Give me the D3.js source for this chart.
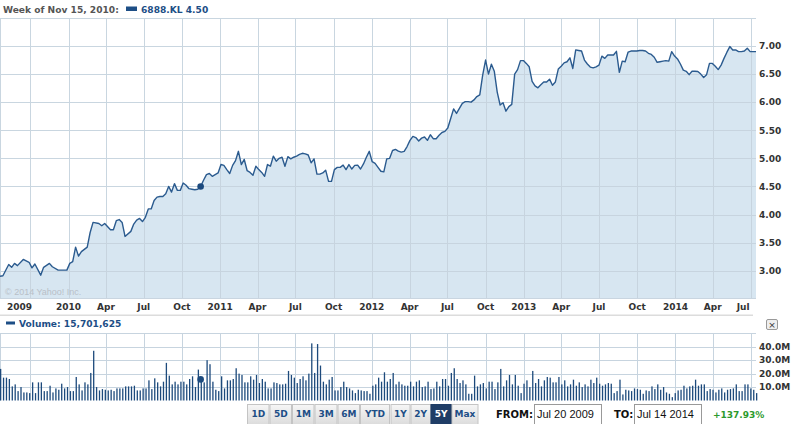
<!DOCTYPE html>
<html><head><meta charset="utf-8">
<script src="https://cdn.jsdelivr.net/npm/d3@7/dist/d3.min.js"></script>
<style>
html,body{margin:0;padding:0;background:#fff;}
svg{display:block;font-family:"DejaVu Sans",Verdana,sans-serif;}
</style></head><body>
<svg id="c" width="793" height="424"></svg>
<script>
// ---------- DATA ----------
const symbol = "6888.KL";
const hoverLabel = "Week of Nov 15, 2010:";
const hoverDate = "2010-11-15";
const hoverPrice = 4.50;
const hoverVolume = 15701625;
const rangeStart = "2009-07-20";
const rangeEnd = "2014-07-14";
const changeText = "+137.93%";

const priceDates = [
"2009-07-20","2009-07-27","2009-08-10","2009-08-17","2009-08-24","2009-08-31","2009-09-14","2009-09-28","2009-10-05","2009-10-12",
"2009-10-26","2009-11-02","2009-11-16","2009-11-23","2009-12-07","2009-12-28","2010-01-04","2010-01-11","2010-01-18","2010-01-25",
"2010-02-01","2010-02-15","2010-02-22","2010-03-01","2010-03-15","2010-03-22","2010-03-29","2010-04-12","2010-04-19","2010-04-26",
"2010-05-03","2010-05-10","2010-05-17","2010-05-31","2010-06-07","2010-06-14","2010-06-21","2010-06-28","2010-07-05","2010-07-12",
"2010-07-19","2010-07-26","2010-08-02","2010-08-09","2010-08-16","2010-08-23","2010-08-30","2010-09-06","2010-09-13","2010-09-20",
"2010-09-27","2010-10-04","2010-10-11","2010-10-18","2010-10-25","2010-11-01","2010-11-08","2010-11-15","2010-11-22","2010-11-29",
"2010-12-06","2010-12-13","2010-12-20","2010-12-27","2011-01-03","2011-01-10","2011-01-17","2011-01-24","2011-01-31","2011-02-07",
"2011-02-14","2011-02-21","2011-02-28","2011-03-07","2011-03-14","2011-03-21","2011-03-28","2011-04-04","2011-04-11","2011-04-18",
"2011-04-25","2011-05-02","2011-05-09","2011-05-16","2011-05-23","2011-05-30","2011-06-06","2011-06-13","2011-06-20","2011-06-27",
"2011-07-04","2011-07-11","2011-07-18","2011-07-25","2011-08-01","2011-08-08","2011-08-15","2011-08-22","2011-08-29","2011-09-05",
"2011-09-12","2011-09-19","2011-09-26","2011-10-03","2011-10-10","2011-10-17","2011-10-24","2011-10-31","2011-11-07","2011-11-14",
"2011-11-21","2011-11-28","2011-12-05","2011-12-12","2011-12-19","2011-12-26","2012-01-02","2012-01-09","2012-01-16","2012-01-23",
"2012-01-30","2012-02-06","2012-02-13","2012-02-20","2012-02-27","2012-03-05","2012-03-12","2012-03-19","2012-03-26","2012-04-02",
"2012-04-09","2012-04-16","2012-04-23","2012-04-30","2012-05-07","2012-05-14","2012-05-21","2012-05-28","2012-06-04","2012-06-11",
"2012-06-18","2012-06-25","2012-07-02","2012-07-09","2012-07-16","2012-07-23","2012-07-30","2012-08-06","2012-08-13","2012-08-20",
"2012-08-27","2012-09-03","2012-09-10","2012-09-17","2012-09-24","2012-10-01","2012-10-08","2012-10-15","2012-10-22","2012-10-29",
"2012-11-05","2012-11-12","2012-11-19","2012-11-26","2012-12-03","2012-12-10","2012-12-17","2012-12-24","2012-12-31","2013-01-07",
"2013-01-14","2013-01-21","2013-01-28","2013-02-04","2013-02-11","2013-02-18","2013-02-25","2013-03-04","2013-03-11","2013-03-18",
"2013-03-25","2013-04-01","2013-04-08","2013-04-15","2013-04-22","2013-04-29","2013-05-06","2013-05-13","2013-05-20","2013-05-27",
"2013-06-03","2013-06-10","2013-06-17","2013-06-24","2013-07-01","2013-07-08","2013-07-15","2013-07-22","2013-07-29","2013-08-05",
"2013-08-12","2013-08-19","2013-08-26","2013-09-02","2013-09-09","2013-09-16","2013-09-23","2013-09-30","2013-10-07","2013-10-14",
"2013-10-21","2013-10-28","2013-11-04","2013-11-11","2013-11-18","2013-11-25","2013-12-02","2013-12-09","2013-12-16","2013-12-23",
"2013-12-30","2014-01-06","2014-01-13","2014-01-20","2014-01-27","2014-02-03","2014-02-10","2014-02-17","2014-02-24","2014-03-03",
"2014-03-10","2014-03-17","2014-03-24","2014-03-31","2014-04-07","2014-04-14","2014-04-21","2014-04-28","2014-05-05","2014-05-12",
"2014-05-19","2014-05-26","2014-06-02","2014-06-09","2014-06-16","2014-06-23","2014-06-30","2014-07-07","2014-07-14"
];
const prices = [
2.90,2.91,3.11,3.06,3.13,3.09,3.20,3.15,3.05,3.12,
2.92,3.06,3.13,3.07,3.01,3.01,3.13,3.16,3.42,3.26,
3.34,3.42,3.68,3.86,3.84,3.80,3.84,3.73,3.73,3.89,
3.91,3.86,3.61,3.70,3.83,3.90,3.93,3.875,3.95,4.10,
4.10,4.25,4.31,4.32,4.32,4.37,4.50,4.40,4.55,4.43,
4.43,4.56,4.52,4.46,4.45,4.44,4.45,4.50,4.61,4.71,
4.73,4.68,4.71,4.74,4.89,4.875,4.80,4.73,4.875,4.96,
5.125,4.89,4.98,4.78,4.75,4.70,4.86,4.80,4.75,4.68,
4.89,4.86,5.04,4.95,5.00,5.02,4.86,5.03,4.99,5.02,
5.04,5.07,5.09,5.08,5.06,4.92,4.99,4.72,4.72,4.74,
4.79,4.59,4.59,4.80,4.84,4.84,4.88,4.80,4.89,4.81,
4.875,4.88,4.81,4.90,5.02,5.125,4.94,4.91,4.84,4.77,
4.76,4.99,5.00,5.14,5.16,5.13,5.11,5.125,5.21,5.32,
5.39,5.37,5.31,5.36,5.38,5.32,5.42,5.35,5.35,5.41,
5.46,5.48,5.54,5.71,5.88,5.80,5.89,5.98,6.01,6.01,
6.00,6.04,6.10,6.13,6.48,6.75,6.50,6.675,6.55,6.18,
5.95,5.99,5.84,5.92,5.96,6.50,6.58,6.74,6.74,6.69,
6.63,6.37,6.29,6.255,6.31,6.36,6.36,6.41,6.30,6.36,
6.59,6.64,6.70,6.72,6.79,6.60,6.93,6.92,6.91,6.75,
6.68,6.625,6.61,6.63,6.66,6.82,6.78,6.84,6.84,6.84,
6.905,6.53,6.73,6.72,6.89,6.91,6.91,6.91,6.92,6.92,
6.91,6.87,6.85,6.80,6.71,6.72,6.73,6.74,6.73,6.90,
6.82,6.77,6.68,6.57,6.55,6.49,6.55,6.55,6.545,6.50,
6.44,6.49,6.69,6.69,6.64,6.58,6.66,6.78,6.89,6.99,
6.93,6.93,6.90,6.90,6.91,6.96,6.90,6.90,6.90
];
// weekly volume in millions, one per week starting at rangeStart
const volumes = [
23.5,17,17,16,10.5,12,7,10,6,6,5.5,13.5,5.5,13.5,13.5,7,7,11,6,9,
8,12.5,9,10,7,7,17.5,12,7.5,13.5,12,20.5,37,10,7.5,8.5,8,7.5,8,7,
9,9,9,10.5,10.5,10.5,11,7.5,7.5,9,9,15,8.5,16.5,13.5,10.5,14,28,18.5,12,
14,12,14,14,12,16,18,10,23,15.7,13.5,30,27,14,8,7,18,9,15,15,
16,24,20,19,13.5,13.5,18,15.5,19,13,16,14,9,9,13.5,13,12,12,12.5,22,
19,17,13,16,18,15,20,42.5,20.5,42,26,14,12,15.5,17.5,7.5,7.5,10,14,10,
9,7.5,5.5,8,7.5,7,7,5,11,12,17,14,21,14,16,20.5,12,14,12,11,
11,14,10.5,14,15,10,10.5,14,8.5,9,14,10.5,16,16,11,20.5,24,16,13,15,
12,5,5,18.5,10.5,12,13,9,14,14,8.5,13.5,23.5,10.5,15,19,12,19,11,5.5,
12.5,15,10,22,13,16,10.5,15,17.5,17,13.5,13.5,17.5,12,15,10.5,12,15.5,11,13.5,
10,12,10.5,15.5,13,17,12.5,11,12,13,12.5,5.5,7,15.5,4.5,8,7.5,7,9,8.5,
8,5,7.5,7,10.5,8.5,12,8,10,6,5,2.5,5.5,7.5,8,11,9,10.5,11,15.5,
11,12,12,7,8.5,8,6,8,9,6,8,8.5,9,12,7,7,12,12,9,8,5.5
];
const priceTicks = [3.0,3.5,4.0,4.5,5.0,5.5,6.0,6.5,7.0];
const volumeTicks = [10,20,30,40];
const xGridDates = ["2009-10-01","2010-01-01","2010-04-01","2010-07-01","2010-10-01","2011-01-01","2011-04-01","2011-07-01","2011-10-01","2012-01-01","2012-04-01","2012-07-01","2012-10-01","2013-01-01","2013-04-01","2013-07-01","2013-10-01","2014-01-01","2014-04-01","2014-07-01"];
const xTickLabels = ["","2010","Apr","Jul","Oct","2011","Apr","Jul","Oct","2012","Apr","Jul","Oct","2013","Apr","Jul","Oct","2014","Apr","Jul"];
const firstYearLabel = "2009";
const rangeButtons = ["1D","5D","1M","3M","6M","YTD","1Y","2Y","5Y","Max"];
const selectedButton = "5Y";

// ---------- DRAW ----------
const parse = d3.timeParse("%Y-%m-%d");
const svg = d3.select("#c");
const W = 756;
const pTop = 18.5, pBottom = 298.5;
const gridCol = "#c7d4df", lineCol = "#2b5b8f", fillCol = "#d7e6f1", blue = "#1d4e86", axisCol = "#333";

const x = d3.scaleTime().domain([parse(rangeStart), parse(rangeEnd)]).range([0, W]);
const y = d3.scaleLinear().domain([3, 7]).range([270.7, 46]);
const vy = d3.scaleLinear().domain([0, 50]).range([400.5, 333.3]);

const priceData = priceDates.map((d, i) => ({ d: parse(d), v: prices[i] }));
const volData = volumes.map((v, i) => ({ d: d3.timeDay.offset(parse(rangeStart), 7 * i), v }));
const px = v => Math.round(v) + 0.5;

// header
const hdr = svg.append("g");
hdr.append("text").attr("x", 3).attr("y", 12.5).attr("font-size", 9.1).attr("font-weight", "bold").attr("fill", "#555").text(hoverLabel);
hdr.append("rect").attr("x", 126).attr("y", 6.5).attr("width", 11).attr("height", 4.5).attr("fill", blue);
hdr.append("text").attr("x", 141).attr("y", 12.5).attr("font-size", 9.1).attr("font-weight", "bold").attr("fill", blue)
  .text(symbol + " " + d3.format(".2f")(hoverPrice));

// price panel
const g = svg.append("g");
g.append("defs").append("clipPath").attr("id", "pc").append("rect").attr("x", 0).attr("y", pTop).attr("width", W).attr("height", pBottom - pTop);
g.append("path").datum(priceData).attr("clip-path", "url(#pc)")
  .attr("d", d3.area().x(d => x(d.d)).y0(pBottom).y1(d => y(d.v))).attr("fill", fillCol);
const grid = g.append("g").attr("stroke", gridCol).attr("stroke-width", 1).attr("opacity", 0.95);
xGridDates.forEach(d => grid.append("line").attr("x1", px(x(parse(d)))).attr("x2", px(x(parse(d)))).attr("y1", pTop).attr("y2", pBottom));
priceTicks.forEach(t => grid.append("line").attr("x1", 0).attr("x2", W).attr("y1", px(y(t))).attr("y2", px(y(t))));
grid.append("line").attr("x1", 0).attr("x2", W).attr("y1", pTop).attr("y2", pTop);
grid.append("line").attr("x1", 0).attr("x2", W).attr("y1", pBottom).attr("y2", pBottom);
grid.append("line").attr("x1", 0.5).attr("x2", 0.5).attr("y1", pTop).attr("y2", pBottom);

g.append("path").datum(priceData).attr("clip-path", "url(#pc)")
  .attr("d", d3.line().x(d => x(d.d)).y(d => y(d.v))).attr("fill", "none").attr("stroke", lineCol).attr("stroke-width", 1.4).attr("stroke-linejoin", "round");
g.append("circle").attr("cx", x(parse(hoverDate))).attr("cy", y(hoverPrice)).attr("r", 3.3).attr("fill", "#1c4a7e");

g.append("text").attr("x", 5).attr("y", 295).attr("font-size", 9).attr("fill", "#b9c0c8").attr("font-family", "Liberation Sans, Arial, sans-serif").text("\u00a9 2014 Yahoo! Inc.");

// y axis labels
priceTicks.forEach(t => svg.append("text").attr("x", 759).attr("y", y(t) + 3.3).attr("font-size", 9).attr("font-weight", "bold").attr("fill", axisCol).text(d3.format(".2f")(t)));

// x labels
svg.append("text").attr("x", 7).attr("y", 310).attr("font-size", 9).attr("font-weight", "bold").attr("fill", axisCol).text(firstYearLabel);
xGridDates.forEach((d, i) => {
  if (!xTickLabels[i]) return;
  const xx = x(parse(d));
  const last = i === xGridDates.length - 1;
  svg.append("text").attr("x", last ? xx - 1 : xx).attr("y", 310).attr("text-anchor", last ? "end" : "middle")
    .attr("font-size", 9).attr("font-weight", "bold").attr("fill", axisCol).text(xTickLabels[i]);
});

// separator
svg.append("rect").attr("x", 0).attr("y", 314.5).attr("width", 753).attr("height", 1.5).attr("fill", "#dcdcdc");

// volume header
svg.append("rect").attr("x", 6).attr("y", 321.5).attr("width", 9).attr("height", 3).attr("fill", blue);
svg.append("text").attr("x", 19).attr("y", 327).attr("font-size", 9.1).attr("font-weight", "bold").attr("fill", blue)
  .text("Volume: " + d3.format(",")(hoverVolume));
// close button
svg.append("rect").attr("x", 766.5).attr("y", 319.5).attr("width", 11).attr("height", 10).attr("rx", 1.5).attr("fill", "#eee").attr("stroke", "#999");
svg.append("text").attr("x", 772).attr("y", 327.5).attr("text-anchor", "middle").attr("font-size", 9).attr("fill", "#333").text("\u00d7");

// volume grid
const vg = svg.append("g").attr("stroke", gridCol).attr("stroke-width", 1);
xGridDates.forEach(d => vg.append("line").attr("x1", px(x(parse(d)))).attr("x2", px(x(parse(d)))).attr("y1", vy(50)).attr("y2", vy(0)));
volumeTicks.concat([50]).forEach(t => vg.append("line").attr("x1", 0).attr("x2", W).attr("y1", px(vy(t))).attr("y2", px(vy(t))));
vg.append("line").attr("x1", 0.5).attr("x2", 0.5).attr("y1", vy(50)).attr("y2", vy(0));

svg.append("g").selectAll("rect").data(volData).join("rect")
  .attr("x", d => x(d.d)).attr("width", 1.3)
  .attr("y", d => vy(d.v)).attr("height", d => vy(0) - vy(d.v)).attr("fill", "#1d4a7c");
svg.append("circle").attr("cx", x(parse(hoverDate))).attr("cy", vy(hoverVolume / 1e6)).attr("r", 3.3).attr("fill", "#1c4a7e");

volumeTicks.forEach(t => svg.append("text").attr("x", 759).attr("y", vy(t) + 3.3).attr("font-size", 9).attr("font-weight", "bold").attr("fill", axisCol).text(d3.format(".1f")(t) + "M"));

// bottom controls
const btnX = [247, 269.5, 292, 314.5, 337.5, 360, 390.5, 410.5, 430.5, 451.5];
const btnW = [21.5, 21.5, 21.5, 22, 21.5, 29, 19, 19.5, 20.5, 26];
const defs2 = svg.append("defs");
const grad = defs2.append("linearGradient").attr("id", "bgr").attr("x1", 0).attr("x2", 0).attr("y1", 0).attr("y2", 1);
grad.append("stop").attr("offset", 0).attr("stop-color", "#f6f6f6");
grad.append("stop").attr("offset", 1).attr("stop-color", "#dcdcdc");
const bg = svg.append("g");
rangeButtons.forEach((b, i) => {
  const sel = b === selectedButton;
  bg.append("rect").attr("x", btnX[i] + 0.5).attr("y", 404.5).attr("width", btnW[i]).attr("height", 20)
    .attr("fill", sel ? "#1f3d66" : "url(#bgr)").attr("stroke", sel ? "#1f3d66" : "#c4c4c4");
  bg.append("text").attr("x", btnX[i] + 0.5 + btnW[i] / 2).attr("y", 417).attr("text-anchor", "middle")
    .attr("font-size", 9).attr("font-weight", "bold").attr("fill", sel ? "#fff" : blue).text(b);
});
const fmtIn = d3.timeFormat("%b %d %Y");
svg.append("text").attr("x", 496).attr("y", 417.5).attr("font-size", 10).attr("font-weight", "bold").attr("fill", "#111").text("FROM:");
svg.append("rect").attr("x", 534.5).attr("y", 404.5).attr("width", 67).attr("height", 20).attr("fill", "#fff").attr("stroke", "#999");
svg.append("text").attr("x", 537).attr("y", 417.5).attr("font-size", 11).attr("font-family", "Liberation Sans, Arial, sans-serif").attr("fill", "#111").text(fmtIn(parse(rangeStart)));
svg.append("text").attr("x", 614).attr("y", 417.5).attr("font-size", 10).attr("font-weight", "bold").attr("fill", "#111").text("TO:");
svg.append("rect").attr("x", 634.5).attr("y", 404.5).attr("width", 67).attr("height", 20).attr("fill", "#fff").attr("stroke", "#999");
svg.append("text").attr("x", 637).attr("y", 417.5).attr("font-size", 11).attr("font-family", "Liberation Sans, Arial, sans-serif").attr("fill", "#111").text(fmtIn(parse(rangeEnd)));
svg.append("text").attr("x", 713).attr("y", 417.5).attr("font-size", 9).attr("font-weight", "bold").attr("fill", "#2c9a2c").text(changeText);
</script>
</body></html>
